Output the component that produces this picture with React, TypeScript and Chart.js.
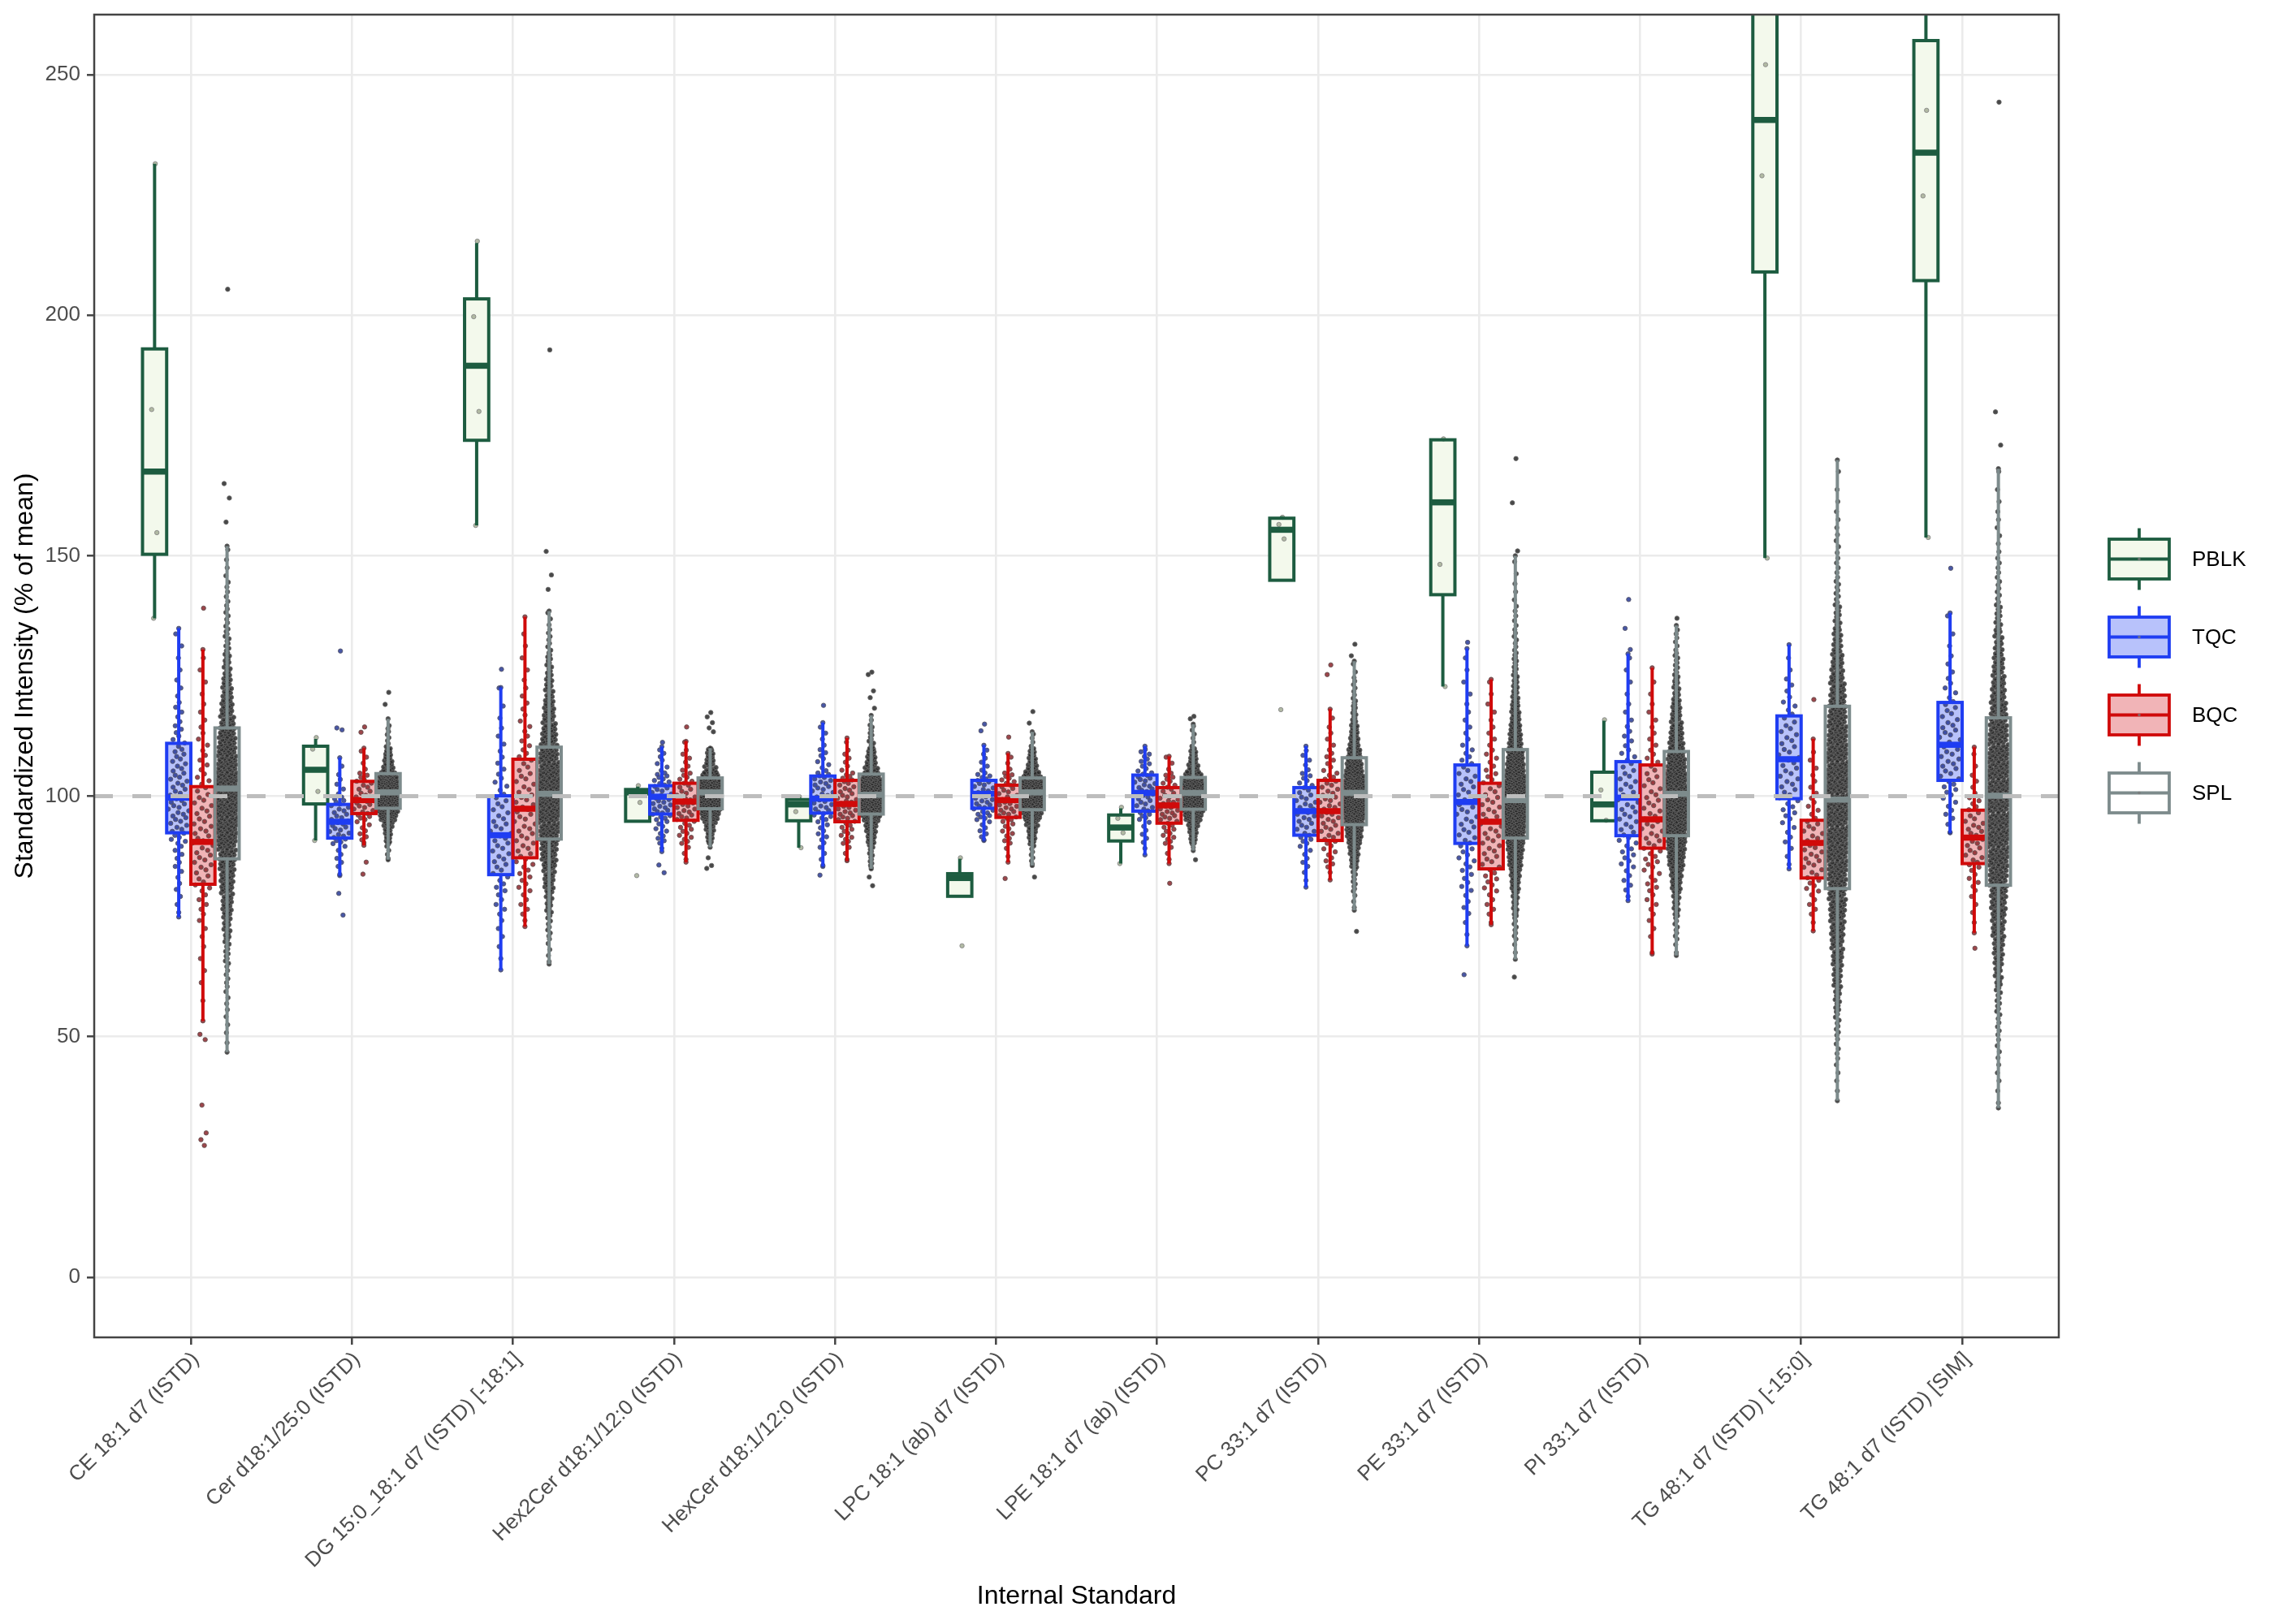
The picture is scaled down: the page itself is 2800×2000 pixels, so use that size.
import React, { useEffect, useRef } from "react";
import Chart from "chart.js/auto";

const categories = [
  "CE 18:1 d7 (ISTD)",
  "Cer d18:1/25:0 (ISTD)",
  "DG 15:0_18:1 d7 (ISTD) [-18:1]",
  "Hex2Cer d18:1/12:0 (ISTD)",
  "HexCer d18:1/12:0 (ISTD)",
  "LPC 18:1 (ab) d7 (ISTD)",
  "LPE 18:1 d7 (ab) (ISTD)",
  "PC 33:1 d7 (ISTD)",
  "PE 33:1 d7 (ISTD)",
  "PI 33:1 d7 (ISTD)",
  "TG 48:1 d7 (ISTD) [-15:0]",
  "TG 48:1 d7 (ISTD) [SIM]",
];
const groups = ["PBLK", "TQC", "BQC", "SPL"];
const yTicks = [0, 50, 100, 150, 200, 250];

// box stats per category: [lower whisker, Q1, median, Q3, upper whisker]
const pblkStats = [
  [137, 150.3, 167.5, 193, 231.5],
  [90.8, 98.4, 105.5, 110.4, 111.9],
  [156.3, 174, 189.5, 203.4, 215],
  [94.8, 94.8, 100.8, 101.4, 102],
  [89.3, 94.9, 98.3, 99.3, 99.9],
  [79.2, 79.2, 83, 83.9, 87],
  [86, 90.7, 93.5, 96.1, 97.5],
  [144.9, 144.9, 155.4, 157.8, 158.2],
  [122.8, 141.9, 161.1, 174.1, 174.3],
  [94.9, 94.9, 98.3, 105, 115.7],
  [149.5, 209, 240.6, 272, 295],
  [153.8, 207.2, 233.8, 257.1, 280],
];
const tqcStats = [
  [74.9, 92.4, 99.7, 111, 134.9],
  [83.5, 91.3, 94.7, 98.3, 108],
  [63.9, 83.7, 91.9, 100.1, 122.6],
  [88.5, 96.3, 99.9, 102.2, 110.3],
  [85.4, 96.5, 99.5, 104.2, 115.3],
  [90.8, 97.5, 100.5, 103.3, 110.6],
  [87.8, 96.9, 100.7, 104.4, 110.4],
  [81.1, 91.9, 96.9, 101.8, 110.4],
  [68.9, 90.2, 98.8, 106.5, 130.7],
  [78.3, 91.8, 99.7, 107.2, 129.6],
  [84.9, 99.5, 107.7, 116.7, 131.5],
  [92.4, 103.3, 110.7, 119.5, 138.1],
];
const bqcStats = [
  [53.3, 81.7, 90.5, 102, 130.5],
  [89.8, 96.4, 99.2, 103.1, 110],
  [72.9, 87.2, 97.4, 107.7, 137.3],
  [86.3, 95, 98.9, 102.7, 111.4],
  [86.6, 94.7, 98.4, 103.3, 112.1],
  [86.3, 95.6, 99.2, 102.3, 108.9],
  [86, 94.4, 98.1, 101.8, 108.3],
  [82.6, 90.8, 96.9, 103.3, 118.1],
  [73.3, 84.9, 94.7, 102.7, 124.3],
  [67.2, 89.2, 95.2, 106.5, 126.7],
  [72, 83, 90.3, 95, 111.9],
  [71.6, 86, 91.4, 97.1, 110.2],
];
const splStats = [
  [46.8, 87, 101.6, 114.2, 152],
  [86.8, 97.5, 100.8, 104.7, 116.1],
  [65.1, 91.1, 100.5, 110.2, 138.5],
  [89.4, 97.4, 100.8, 103.8, 110],
  [84.9, 96.3, 100.3, 104.6, 116.8],
  [85.6, 97.2, 100.8, 103.8, 113.4],
  [88.7, 97.3, 100.7, 103.9, 115],
  [76.3, 94.1, 100.7, 108, 128.1],
  [66.1, 91.3, 99.2, 109.7, 150],
  [66.9, 91.8, 100.5, 109.3, 135.5],
  [36.7, 80.8, 99.3, 118.7, 169.9],
  [35.2, 81.5, 100.1, 116.3, 168.1],
];

// the few single points: all PBLK samples, and the outliers of the other groups
const pblkPoints = [
  [231.5, 180.4, 154.8, 137],
  [112.2, 109.8, 101, 90.8],
  [215.4, 199.7, 180, 156.3],
  [102.2, 101, 98.7, 83.5],
  [99.9, 96.8, 89.3],
  [87.2, 83, 68.9],
  [97.7, 95.4, 92.4, 86],
  [158, 156.5, 153.5, 118],
  [174.3, 148.2, 122.8],
  [115.9, 101.3, 95],
  [252.1, 229, 149.5],
  [242.6, 224.8, 153.8],
];
const tqcOutliers = [
  [], [130.2, 114.2, 113.8, 79.8, 75.3], [126.4], [111.2, 85.7, 84.1], [118.9, 83.6], [115, 113.6],
  [], [], [132, 62.9], [140.9, 134.9, 130.5], [], [147.4],
];
const bqcOutliers = [
  [139.1, 50.5, 49.4, 35.8, 30, 28.6, 27.4], [114.4, 113.3, 86.3, 83.8], [], [114.4], [], [112.3, 82.9],
  [81.9], [127.3, 125.3], [], [], [120.1], [68.4],
];
const splOutliers = [
  [205.4, 165, 162, 157], [121.6, 119.1], [192.8, 150.9, 146, 143],
  [117.4, 116.5, 115.3, 114.2, 113.4, 87.2, 85.6, 85], [125.8, 125.3, 121.9, 120.5, 118.3, 83.2, 81.4],
  [117.6, 115.2, 83.2], [116.6, 116.1, 86.8], [131.6, 129.2, 71.9], [170.2, 161, 151, 62.4], [137], [],
  [244.3, 179.9, 173],
];

// sample counts in 5-unit bins: first entry is the lower edge of the first bin
const tqcCounts = [
  [75, 3, 4, 6, 12, 14, 12, 10, 7, 5, 3, 2, 2],
  [80, 2, 6, 16, 14, 5, 2],
  [60, 1, 2, 3, 5, 7, 9, 10, 8, 6, 4, 3, 2, 1],
  [85, 3, 10, 18, 16, 7, 2],
  [85, 4, 8, 16, 16, 8, 4, 1],
  [90, 8, 18, 16, 6, 2],
  [85, 3, 6, 14, 18, 10, 2],
  [80, 3, 6, 12, 14, 10, 5, 1],
  [65, 1, 2, 4, 6, 8, 9, 10, 9, 7, 4, 3, 2, 2, 1],
  [75, 3, 5, 8, 9, 10, 9, 7, 5, 3, 2, 2],
  [80, 1, 3, 5, 8, 9, 9, 8, 6, 4, 2, 1],
  [90, 3, 6, 9, 10, 10, 8, 5, 3, 2, 1],
];
const bqcCounts = [
  [50, 1, 1, 2, 2, 3, 5, 8, 10, 10, 9, 7, 5, 4, 3, 2, 2],
  [85, 2, 8, 16, 12, 4],
  [70, 3, 5, 7, 9, 10, 10, 9, 7, 5, 4, 3, 2, 2, 1],
  [85, 4, 12, 16, 12, 6, 2],
  [85, 4, 12, 18, 14, 6, 2],
  [85, 3, 10, 18, 14, 4],
  [85, 4, 12, 18, 12, 4],
  [80, 3, 8, 12, 14, 12, 7, 4, 2],
  [70, 2, 5, 8, 9, 10, 10, 8, 6, 4, 3, 2],
  [65, 1, 3, 5, 7, 9, 10, 9, 8, 6, 4, 3, 2, 1],
  [70, 2, 5, 9, 11, 10, 6, 4, 3, 1, 1],
  [70, 2, 3, 6, 10, 12, 8, 4, 2],
];
const splCounts = [
  [45, 2, 3, 4, 6, 10, 16, 24, 32, 40, 48, 52, 52, 46, 40, 30, 22, 15, 10, 7, 5, 3, 2],
  [85, 6, 25, 90, 90, 30, 8, 2],
  [65, 4, 8, 14, 24, 36, 46, 52, 52, 46, 36, 26, 18, 12, 7, 4],
  [85, 4, 25, 80, 80, 28, 8],
  [80, 2, 12, 35, 85, 85, 35, 12, 3],
  [85, 8, 30, 85, 85, 28, 6],
  [85, 4, 28, 85, 85, 28, 6],
  [75, 4, 10, 30, 60, 85, 80, 55, 30, 14, 7, 3],
  [65, 3, 8, 16, 30, 50, 70, 80, 75, 60, 42, 28, 18, 12, 7, 5, 3, 2, 1],
  [65, 3, 8, 16, 30, 48, 60, 65, 62, 52, 38, 26, 16, 10, 6, 2],
  [35, 2, 3, 5, 8, 12, 18, 24, 30, 36, 40, 44, 46, 48, 48, 46, 42, 38, 32, 25, 18, 12, 8, 5, 4, 3, 2, 1],
  [35, 2, 3, 4, 6, 9, 14, 20, 26, 32, 38, 42, 45, 46, 46, 44, 40, 34, 28, 22, 16, 11, 7, 5, 3, 3, 2, 1],
];

const allStats = [pblkStats, tqcStats, bqcStats, splStats];
const allCounts = [null, tqcCounts, bqcCounts, splCounts];
const allSingles = [pblkPoints, tqcOutliers, bqcOutliers, splOutliers];

// styling
const FONT = "'Liberation Sans', Arial, Helvetica, sans-serif";
const dodge = [-0.225, -0.075, 0.075, 0.225];
const boxWidth = 0.15;
const strokeColors = ["#1d5c40", "#1f3df2", "#d00a0a", "#7d8b8c"];
const fillColors = ["#f3f9ec", "#b8c2fb", "#f1b4b7", "#ffffff"];
const dotFills = ["rgba(170,178,155,0.9)", "rgba(40,58,150,0.85)", "rgba(140,38,44,0.85)", "rgba(40,40,40,0.85)"];
const dotStrokes = ["rgba(135,135,135,0.9)", "rgba(85,85,105,0.9)", "rgba(100,80,80,0.9)", "rgba(100,100,100,0.9)"];
const minSpread = [0.3, 0.3, 0.3, 0.12];
const jitter = [0.1, -0.45, 0.35, -0.15, 0.5, -0.3, 0.22, -0.52];

const vdc = (n: number) => {
  let r = 0;
  let f = 0.5;
  let k = n + 1;
  while (k > 0) {
    r += f * (k & 1);
    k >>= 1;
    f /= 2;
  }
  return r;
};

function dot(ctx: CanvasRenderingContext2D, px: number, py: number, g: number) {
  ctx.beginPath();
  ctx.arc(px, py, 2.7, 0, Math.PI * 2);
  ctx.fillStyle = dotFills[g];
  ctx.fill();
  ctx.lineWidth = 1;
  ctx.strokeStyle = dotStrokes[g];
  ctx.stroke();
}

const boxPlugin = {
  id: "boxes",
  afterDatasetsDraw(chart: any) {
    const { ctx, chartArea, scales } = chart;
    const x = scales.x;
    const y = scales.y;
    const half = (x.getPixelForValue(boxWidth) - x.getPixelForValue(0)) / 2;
    const spread = half - 1.5;
    ctx.save();
    ctx.beginPath();
    ctx.rect(chartArea.left, chartArea.top, chartArea.width, chartArea.height);
    ctx.clip();

    // box fills
    categories.forEach((_, i) => {
      groups.forEach((__, g) => {
        const [, q1, , q3] = allStats[g][i];
        const cx = x.getPixelForValue(i + dodge[g]);
        ctx.fillStyle = fillColors[g];
        ctx.fillRect(cx - half, y.getPixelForValue(q3), half * 2, y.getPixelForValue(q1) - y.getPixelForValue(q3));
      });
    });

    // sample dots
    categories.forEach((_, i) => {
      groups.forEach((__, g) => {
        const cx = x.getPixelForValue(i + dodge[g]);
        const [lo, , , , hi] = allStats[g][i];
        const counts = allCounts[g];
        if (counts) {
          const start = counts[i][0];
          const c = counts[i].slice(1);
          const maxC = Math.max(...c);
          const dens = (v: number) => {
            const t = (v - start) / 5 - 0.5;
            const k = Math.floor(t);
            const f = t - k;
            const a = c[Math.max(0, Math.min(c.length - 1, k))];
            const b = c[Math.max(0, Math.min(c.length - 1, k + 1))];
            return a + (b - a) * f;
          };
          let n = 0;
          c.forEach((cnt, bi) => {
            const b0 = start + bi * 5;
            for (let k = 0; k < cnt; k++) {
              const v = b0 + ((k + 0.5) / cnt) * 5;
              if (v < lo || v > hi) continue;
              const hw = spread * Math.max(minSpread[g], Math.min(1, dens(v) / maxC));
              dot(ctx, cx + (vdc(n++) * 2 - 1) * hw, y.getPixelForValue(v), g);
            }
          });
          dot(ctx, cx, y.getPixelForValue(lo), g);
          dot(ctx, cx, y.getPixelForValue(hi), g);
        }
        allSingles[g][i].forEach((v, k) => {
          dot(ctx, cx + jitter[k % jitter.length] * spread * 0.6, y.getPixelForValue(v), g);
        });
      });
    });

    // whiskers, outlines, medians
    ctx.lineCap = "butt";
    categories.forEach((_, i) => {
      groups.forEach((__, g) => {
        const [lo, q1, med, q3, hi] = allStats[g][i].map((v) => y.getPixelForValue(v));
        const cx = x.getPixelForValue(i + dodge[g]);
        ctx.strokeStyle = strokeColors[g];
        ctx.lineWidth = 4;
        ctx.beginPath();
        ctx.moveTo(cx, q3);
        ctx.lineTo(cx, hi);
        ctx.moveTo(cx, q1);
        ctx.lineTo(cx, lo);
        ctx.stroke();
        ctx.strokeRect(cx - half, q3, half * 2, q1 - q3);
        ctx.lineWidth = 7.5;
        ctx.beginPath();
        ctx.moveTo(cx - half, med);
        ctx.lineTo(cx + half, med);
        ctx.stroke();
      });
    });

    // reference line at 100 %
    const y100 = y.getPixelForValue(100);
    ctx.strokeStyle = "#bdbdbd";
    ctx.lineWidth = 5;
    ctx.setLineDash([23, 24]);
    ctx.beginPath();
    ctx.moveTo(chartArea.left, y100);
    ctx.lineTo(chartArea.right, y100);
    ctx.stroke();
    ctx.restore();

    // panel border
    ctx.save();
    ctx.strokeStyle = "#444444";
    ctx.lineWidth = 2.5;
    ctx.strokeRect(chartArea.left, chartArea.top, chartArea.width, chartArea.height);
    ctx.restore();
  },
  afterDraw(chart: any) {
    const { ctx, chartArea } = chart;
    const midY = (chartArea.top + chartArea.bottom) / 2;
    const x0 = chartArea.right + 62;
    const w = 74;
    ctx.save();
    groups.forEach((name, g) => {
      const cy = midY + (g - 1.5) * 96;
      const cx = x0 + w / 2;
      ctx.fillStyle = fillColors[g];
      ctx.fillRect(x0, cy - 24.5, w, 49);
      ctx.strokeStyle = strokeColors[g];
      ctx.lineWidth = 3.8;
      ctx.strokeRect(x0, cy - 24.5, w, 49);
      ctx.beginPath();
      ctx.moveTo(cx, cy - 38);
      ctx.lineTo(cx, cy - 24.5);
      ctx.moveTo(cx, cy + 24.5);
      ctx.lineTo(cx, cy + 38);
      ctx.moveTo(x0, cy);
      ctx.lineTo(x0 + w, cy);
      ctx.stroke();
      ctx.beginPath();
      ctx.arc(cx, cy, 1.8, 0, Math.PI * 2);
      ctx.fillStyle = "rgba(120,120,120,0.8)";
      ctx.fill();
      ctx.fillStyle = "#000000";
      ctx.font = `26px ${FONT}`;
      ctx.textAlign = "left";
      ctx.textBaseline = "middle";
      ctx.fillText(name, chartArea.right + 164, cy + 1);
    });
    ctx.restore();
  },
};

const App: React.FC = () => {
  const canvasRef = useRef<HTMLCanvasElement>(null);
  const chartRef = useRef<Chart>();

  useEffect(() => {
    const ctx = canvasRef.current?.getContext("2d");
    if (!ctx) return;

    chartRef.current = new Chart(ctx, {
      type: "scatter",
      data: { datasets: [{ label: "samples", data: [] }] },
      plugins: [boxPlugin],
      options: {
        animation: false,
        responsive: true,
        maintainAspectRatio: false,
        devicePixelRatio: 1,
        layout: { padding: { top: 18, right: 265, bottom: 0, left: 0 } },
        plugins: { legend: { display: false }, tooltip: { enabled: false } },
        scales: {
          x: {
            type: "linear",
            min: -0.6,
            max: 11.6,
            afterBuildTicks: (scale: any) => {
              scale.ticks = categories.map((_, i) => ({ value: i }));
            },
            afterFit: (scale: any) => {
              scale.height = 353;
              scale.paddingLeft = 0;
              scale.paddingRight = 0;
            },
            grid: { color: "#ebebeb", lineWidth: 2.6, tickColor: "#444444", tickWidth: 2.5, tickLength: 9 },
            border: { display: false },
            ticks: {
              autoSkip: false,
              maxRotation: 45,
              minRotation: 45,
              padding: 3,
              labelOffset: 6,
              color: "#4d4d4d",
              font: { family: FONT, size: 26 },
              callback: (v: any) => categories[v as number] ?? "",
            },
            title: {
              display: true,
              text: "Internal Standard",
              color: "#000000",
              font: { family: FONT, size: 32 },
              padding: { top: 0, bottom: 15 },
            },
          },
          y: {
            type: "linear",
            min: -12.5,
            max: 262.5,
            afterBuildTicks: (scale: any) => {
              scale.ticks = yTicks.map((v) => ({ value: v }));
            },
            afterFit: (scale: any) => {
              scale.width = 116;
              scale.paddingTop = 0;
              scale.paddingBottom = 0;
            },
            grid: { color: "#ebebeb", lineWidth: 2.6, tickColor: "#444444", tickWidth: 2.5, tickLength: 9 },
            border: { display: false },
            ticks: {
              padding: 8,
              color: "#4d4d4d",
              font: { family: FONT, size: 26 },
            },
            title: {
              display: true,
              text: "Standardized Intensity (% of mean)",
              color: "#000000",
              font: { family: FONT, size: 32 },
              padding: { top: 12, bottom: 0 },
            },
          },
        },
      },
    });

    return () => {
      chartRef.current?.destroy();
    };
  }, []);

  return (
    <div style={{ position: "absolute", left: 0, top: 0, width: 2800, height: 2000, background: "#ffffff" }}>
      <canvas ref={canvasRef}></canvas>
    </div>
  );
};

export default App;
